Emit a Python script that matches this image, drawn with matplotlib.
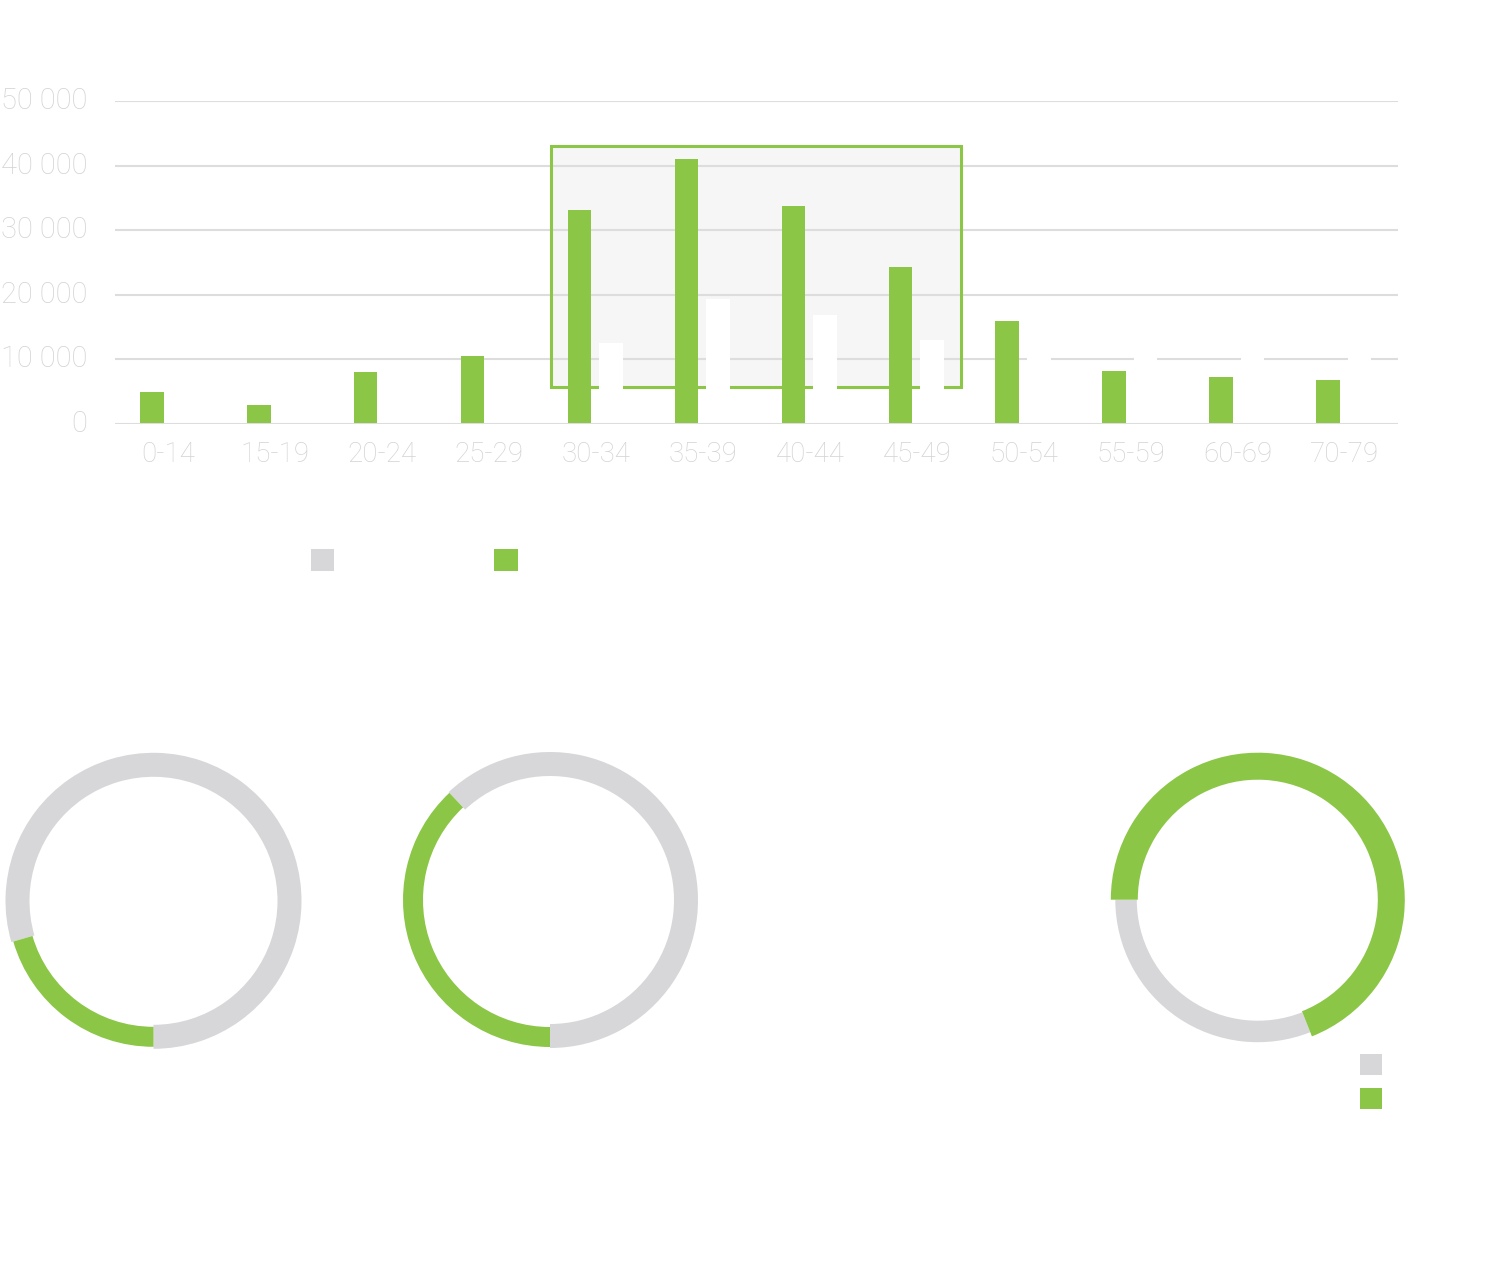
import matplotlib
matplotlib.use("Agg")
import matplotlib.pyplot as plt
from matplotlib.patches import Rectangle
from matplotlib.transforms import ScaledTranslation
from matplotlib import font_manager

# ---------------- data ----------------
categories = ["0-14", "15-19", "20-24", "25-29", "30-34", "35-39",
              "40-44", "45-49", "50-54", "55-59", "60-69", "70-79"]
green_values = [5000, 3000, 8100, 10600, 33100, 41000,
                33700, 24300, 16000, 8150, 7200, 6800]
white_values = [3000, 2500, 6500, 8000, 12600, 19400,
                16900, 13000, 11500, 10800, 10500, 10500]
y_ticks = [0, 10000, 20000, 30000, 40000, 50000]
highlight_range = (3.58, 7.41)      # category span of the highlight box
highlight_values = (5700, 43000)    # value span of the highlight box

donut_green_shares = [20.5, 38, 69]
donut_start_angles = [270, 270, 180]

# ---------------- style ----------------
GREEN = "#8BC646"
GREY = "#D7D7D9"
GRID = "#DDDDDD"
TEXT = "#D3D3D3"
BOX_FILL = "#F6F6F6"

names = {f.name for f in font_manager.fontManager.ttflist}
FAMILY = "Roboto" if "Roboto" in names else "DejaVu Sans"

W, H = 1488, 1268
fig = plt.figure(figsize=(W / 100, H / 100), dpi=100)
fig.patch.set_facecolor("white")


def px_axes(x0, y0, x1, y1):
    """axes from pixel box (top-left origin)"""
    return fig.add_axes([x0 / W, 1 - y1 / H, (x1 - x0) / W, (y1 - y0) / H])


# ---------------- bar chart ----------------
ax = px_axes(115, 101, 1398, 424)
n = len(categories)
xs = list(range(n))
ax.set_xlim(-0.5, n - 0.5)
ax.set_ylim(0, 50000)

# highlight box
ax.add_patch(Rectangle((highlight_range[0], highlight_values[0]),
                       highlight_range[1] - highlight_range[0],
                       highlight_values[1] - highlight_values[0],
                       facecolor=BOX_FILL, edgecolor="none", zorder=0.5))
ax.add_patch(Rectangle((highlight_range[0], highlight_values[0]),
                       highlight_range[1] - highlight_range[0],
                       highlight_values[1] - highlight_values[0],
                       facecolor="none", edgecolor=GREEN, linewidth=2.2, zorder=1.5))

for t in y_ticks[1:]:
    ax.axhline(t, color=GRID, linewidth=1.5, zorder=1)
ax.axhline(0, color=GRID, linewidth=1.5, zorder=3)

bw = 0.22
ax.bar([x - 0.155 for x in xs], green_values, width=bw, color=GREEN, zorder=2, linewidth=0)
ax.bar([x + 0.14 for x in xs], white_values, width=bw, color="white", zorder=2, linewidth=0)

ax.set_yticks(y_ticks)
ax.set_yticklabels([f"{v:,}".replace(",", " ") for v in y_ticks],
                   fontsize=21, color=TEXT, family=FAMILY, fontweight="light")
ax.set_xticks(xs)
ax.set_xticklabels(categories, fontsize=20, color=TEXT, family=FAMILY, fontweight="light")
ax.tick_params(axis="y", length=0, pad=20)
ax.tick_params(axis="x", length=0, pad=12)
shift = ScaledTranslation(0, 3 / 100, fig.dpi_scale_trans)
for lab in ax.get_yticklabels():
    lab.set_transform(lab.get_transform() + shift)
for s in ax.spines.values():
    s.set_visible(False)
ax.set_facecolor("none")

# ---------------- legend squares ----------------
for (x0, y0, x1, y1, c) in [(311, 549, 334, 571, GREY), (494, 549, 518, 571, GREEN),
                             (1360, 1054, 1382, 1075, GREY), (1360, 1088, 1382, 1109, GREEN)]:
    fig.patches.append(Rectangle((x0 / W, 1 - y1 / H), (x1 - x0) / W, (y1 - y0) / H,
                                 transform=fig.transFigure, facecolor=c, edgecolor="none"))

# ---------------- donuts ----------------
donut_centers = [(153.5, 900.8), (550, 900), (1257.8, 899.7)]
grey_rings = [(148, 24), (148, 24), (142.5, 21.5)]
green_rings = [(146, 20), (147, 20), (147, 27)]

for (cx, cy), share, start, (gr, gw), (er, ew) in zip(
        donut_centers, donut_green_shares, donut_start_angles, grey_rings, green_rings):
    dax = px_axes(cx - 150, cy - 150, cx + 150, cy + 150)
    vals = [share, 100 - share]
    dax.pie(vals, colors=["none", GREY], startangle=start, counterclock=False,
            radius=gr, wedgeprops=dict(width=gw, linewidth=0))
    dax.pie(vals, colors=[GREEN, "none"], startangle=start, counterclock=False,
            radius=er, wedgeprops=dict(width=ew, linewidth=0))
    dax.set_xlim(-150, 150)
    dax.set_ylim(-150, 150)
    dax.set_aspect("equal")
    dax.axis("off")

fig.savefig("out.png", dpi=100, facecolor="white")
